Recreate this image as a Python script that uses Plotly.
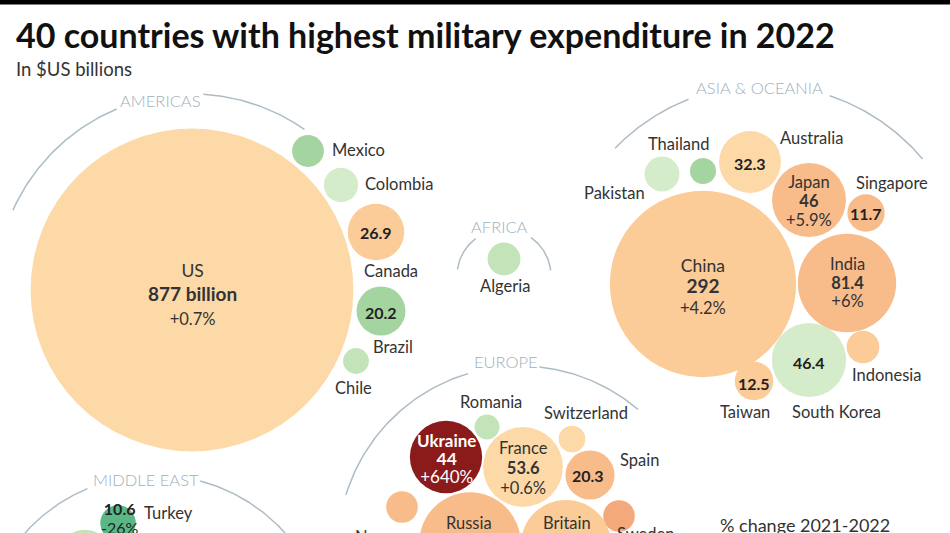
import numpy as np
import plotly.graph_objects as go

# Military spending 2022 (SIPRI), $US billions, and % change 2021-2022
countries = ["US", "Mexico", "Colombia", "Canada", "Brazil", "Chile",
             "Algeria",
             "China", "Japan", "India", "Australia", "Singapore", "Indonesia",
             "South Korea", "Taiwan", "Pakistan", "Thailand",
             "Ukraine", "France", "Spain", "Romania", "Switzerland", "Sweden",
             "Russia", "Britain", "Norway",
             "Turkey", "Israel"]
spending = [877, 8.5, 9.9, 26.9, 20.2, 5.6,
            9.1,
            292, 46, 81.4, 32.3, 11.7, 9.0,
            46.4, 12.5, 10.3, 5.7,
            44, 53.6, 20.3, 5.2, 6.0, 8.4,
            86.4, 68.5, 8.4,
            10.6, 23.4]
change = [0.7, -10, -2, 3.0, -7.9, -5,
          -4,
          4.2, 5.9, 6.0, 0.1, 6.0, 2.0,
          -2.5, 3.0, -2.0, -8,
          640, 0.6, 7.0, -4, 0.8, 12,
          9.2, 3.7, 6.0,
          -26, -4.2]

# bubble centres (pixel layout of the packed clusters)
bx = [192, 308, 341, 376, 381, 356,
      504,
      703, 809, 847, 750, 866, 863,
      809, 754, 662, 703,
      446, 523, 590, 487, 572, 619,
      470, 566, 402,
      118, 85]
by = [290, 151, 185, 232, 311, 361,
      259,
      284, 200, 283, 162, 213, 347,
      360, 381, 174, 171,
      457, 467, 475, 427, 439, 516,
      543, 545, 507,
      523, 556]

K = 5.45  # px of radius per sqrt(billion)


def pct_color(c):
    if c <= -20:
        return "#5cb786"
    if c <= -7:
        return "#a4d5a0"
    if c <= -3:
        return "#c3e4b8"
    if c < 0:
        return "#d5ecca"
    if c < 1:
        return "#fdd9a8"
    if c < 5:
        return "#fbcb98"
    if c < 10:
        return "#f8bb8a"
    if c < 100:
        return "#f4a97a"
    return "#8b1a1a"


FONT = "Lato"
DARK = "#333333"
REGION = "#9fb0bb"

fig = go.Figure()

# region arcs
arcs = [
    (192, 290, 196, [(112.6, 156), (86.7, 55)]),
    (764, 292, 207, [(111.4, 136), (71.5, 40)]),
    (504, 276, 47, [(127, 172), (55, 7)]),
    (520, 548, 182, [(106.6, 163), (83.9, 49.6)]),
    (155, 650, 175, [(112.7, 150), (75, 35)]),
]
for cx, cy, r, segs in arcs:
    for a0, a1 in segs:
        t = np.radians(np.linspace(a0, a1, 60))
        fig.add_trace(go.Scatter(x=cx + r * np.cos(t), y=cy - r * np.sin(t),
                                 mode="lines", line=dict(color="#aebcc5", width=1.5),
                                 hoverinfo="skip"))

# bubbles
sizes = [2 * K * np.sqrt(v) for v in spending]
fig.add_trace(go.Scatter(
    x=bx, y=by, mode="markers",
    marker=dict(size=sizes, sizemode="diameter", color=[pct_color(c) for c in change],
                line=dict(width=0), opacity=1),
    customdata=np.stack([spending, change], axis=1),
    text=countries,
    hovertemplate="%{text}<br>%{customdata[0]} bn<br>%{customdata[1]:+}%<extra></extra>",
))


def label(x, y, text, size=16.5, color=DARK, bold=False, anchor="center", weight=None, shift=0):
    if bold:
        text = "<b>" + text + "</b>"
    font = dict(family=FONT, size=size, color=color)
    if weight:
        font["weight"] = weight
    fig.add_annotation(x=x, y=y, text=text, showarrow=False, xanchor=anchor,
                       yanchor="middle", yshift=shift, font=font)


def stack(x, y, lines, step, color=DARK):
    # several lines in one text block; step is the line pitch in px
    parts = []
    for txt, size, bold in lines:
        s = '<span style="font-size:%spx">%s</span>' % (size, txt)
        parts.append("<b>" + s + "</b>" if bold else s)
    fig.add_annotation(x=x, y=y, text="<br>".join(parts), showarrow=False,
                       xanchor="center", yanchor="middle",
                       font=dict(family=FONT, size=step / 1.3, color=color))


# region titles
for x, y, name in [(160, 101, "AMERICAS"), (759, 88, "ASIA & OCEANIA"), (499, 227, "AFRICA"),
                   (506, 362, "EUROPE"), (146, 480, "MIDDLE EAST")]:
    label(x, y, name, 16.5, REGION, weight=300)

# big bubbles: name / value / change
stack(192, 294, [("US", 17.5, False), ("877 billion", 19, True), ("+0.7%", 16.5, False)], 24)
stack(703, 286, [("China", 17.5, False), ("292", 19, True), ("+4.2%", 16.5, False)], 21)
stack(809, 201, [("Japan", 16.5, False), ("46", 16.5, True), ("+5.9%", 16.5, False)], 19)
stack(847, 282, [("India", 16.5, False), ("81.4", 16.5, True), ("+6%", 16.5, False)], 18.5)
stack(446, 458, [("Ukraine", 17, True), ("44", 17.5, True), ("+640%", 17, False)], 18, "white")
stack(523, 468, [("France", 16.5, False), ("53.6", 16.5, True), ("+0.6%", 16.5, False)], 20)
label(469, 523, "Russia", 16.5)
label(567, 523, "Britain", 16.5)

# values inside smaller bubbles
label(376, 232, "26.9", 16, "#222", True)
label(381, 312, "20.2", 16, "#222", True)
label(750, 163, "32.3", 16, "#222", True)
label(866, 213, "11.7", 16, "#222", True)
label(809, 362, "46.4", 16, "#222", True)
label(754, 383, "12.5", 16, "#222", True)
label(588, 475, "20.3", 16, "#222", True)
stack(120, 518, [("10.6", 16, True), ("-26%", 16, False)], 19, "#222")

# country names outside bubbles
label(330, 150, "Mexico", anchor="left")
label(363, 184, "Colombia", anchor="left")
label(391, 271, "Canada")
label(393, 347, "Brazil")
label(353, 388, "Chile")
label(505, 286, "Algeria")
label(679, 144, "Thailand")
label(614, 193, "Pakistan")
label(811, 138, "Australia")
label(892, 183, "Singapore")
label(887, 375, "Indonesia")
label(836, 412, "South Korea")
label(745, 412, "Taiwan")
label(491, 402, "Romania")
label(586, 413, "Switzerland")
label(639, 460, "Spain")
label(645, 533, "Sweden", shift=-1)
label(353, 533, "Norway", anchor="left", shift=-4)
label(142, 513, "Turkey", anchor="left")

# title, subtitle, legend heading
label(14, 34, "40 countries with highest military expenditure in 2022", 34, "#111", True, "left")
label(14, 69, "In $US billions", 18.5, DARK, anchor="left")
label(718, 525, "% change 2021-2022", 18, DARK, anchor="left")

fig.add_shape(type="rect", x0=0, x1=950, y0=0, y1=4.5, fillcolor="black", line_width=0)

fig.update_layout(
    width=950, height=533,
    margin=dict(l=0, r=0, t=0, b=0),
    paper_bgcolor="white", plot_bgcolor="white",
    showlegend=False,
    xaxis=dict(range=[0, 950], visible=False, fixedrange=True),
    yaxis=dict(range=[533, 0], visible=False, fixedrange=True),
)

# drop the browser's default 8px body margin so the chart sits at the window corner
fig.write_html("out.html", config={"displayModeBar": False},
               post_script="document.body.style.margin = '0';")
